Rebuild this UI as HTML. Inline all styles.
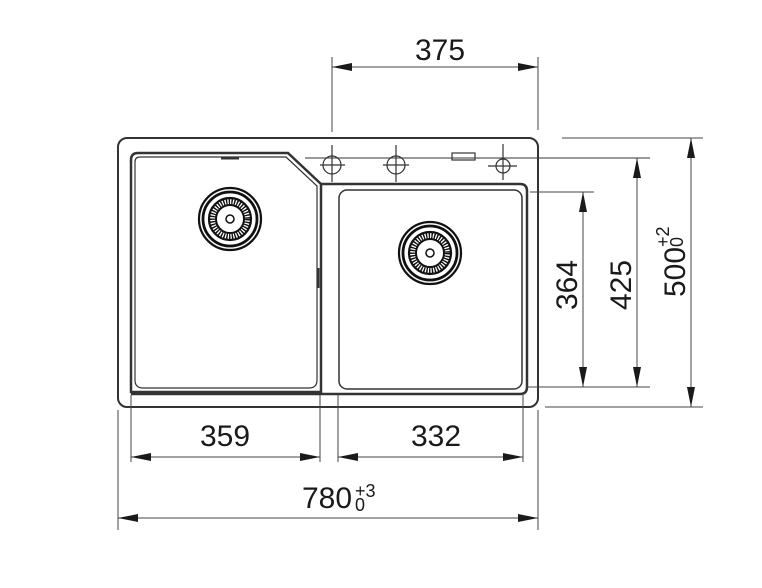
<!DOCTYPE html>
<html><head><style>html,body{margin:0;padding:0;background:#fff}svg{display:block}text{font-family:"Liberation Sans",Arial,sans-serif;fill:#1a1a1a}</style></head>
<body>
<svg width="762" height="588" viewBox="0 0 762 588" xmlns="http://www.w3.org/2000/svg">
<defs>
<marker id="a" markerWidth="20" markerHeight="8" refX="20" refY="4" orient="auto-start-reverse" markerUnits="userSpaceOnUse"><path d="M0,0 L20,4 L0,8 Z" fill="#1a1a1a"/></marker>
<g id="drain" fill="none" stroke="#111">
<circle r="31" stroke-width="2.2"/><circle r="27" stroke-width="2.8"/>
<circle r="21" stroke-width="2.2"/><circle r="14" stroke-width="2"/>
<circle r="17.5" stroke-width="6" stroke-dasharray="1.4 1.3"/>
<circle r="4" stroke-width="1.5"/>
</g>
</defs>
<g stroke="#333" fill="none">
<rect x="118" y="138" width="420" height="269" rx="9" stroke-width="2"/>
<path d="M131,392 L131,160 Q131,153 138,153 L288,153 L321,184 L321,392 Z" stroke-width="2.5"/>
<path d="M135,380 L135,162 Q135,157 140,157 L286,157 L317,186 L317,380 Q317,388 309,388 L143,388 Q135,388 135,380" stroke-width="1.2"/>
<path d="M321,184 L520,184 Q527,184 527,191 L527,387 Q527,394 520,394 L131,394" stroke-width="2.5"/>
<rect x="339" y="190" width="183" height="199" rx="8" stroke-width="1.5"/>
<line x1="305" y1="158" x2="650" y2="158" stroke-width="1"/>
<g stroke-width="1.2">
<circle cx="332" cy="165" r="9"/><line x1="332" y1="145" x2="332" y2="182"/><line x1="320" y1="165" x2="345" y2="165"/>
<circle cx="396" cy="165" r="9"/><line x1="396" y1="145" x2="396" y2="182"/><line x1="383" y1="165" x2="409" y2="165"/>
<circle cx="503" cy="166" r="7"/><line x1="503" y1="144" x2="503" y2="180"/><line x1="488" y1="166" x2="517" y2="166"/>
<rect x="452" y="153" width="23" height="7"/>
</g>
<path d="M221,158 L239,158" stroke-width="3"/>
<path d="M318,268 L318,288" stroke-width="3"/>
</g>
<use href="#drain" x="230" y="219"/>
<use href="#drain" x="430" y="253"/>
<g stroke="#444" stroke-width="1" fill="none">
<line x1="332" y1="57" x2="332" y2="132"/><line x1="538" y1="57" x2="538" y2="130"/>
<line x1="332" y1="67" x2="538" y2="67" marker-start="url(#a)" marker-end="url(#a)"/>
<line x1="562" y1="138" x2="703" y2="138"/><line x1="545" y1="407" x2="703" y2="407"/>
<line x1="691" y1="138" x2="691" y2="407" marker-start="url(#a)" marker-end="url(#a)"/>
<line x1="527" y1="387" x2="650" y2="387"/>
<line x1="637" y1="158" x2="637" y2="387" marker-start="url(#a)" marker-end="url(#a)"/>
<line x1="530" y1="192" x2="594" y2="192"/>
<line x1="583" y1="192" x2="583" y2="387" marker-start="url(#a)" marker-end="url(#a)"/>
<line x1="131" y1="395" x2="131" y2="462"/><line x1="320" y1="395" x2="320" y2="462"/>
<line x1="338" y1="395" x2="338" y2="462"/><line x1="523" y1="395" x2="523" y2="462"/>
<line x1="131" y1="457" x2="320" y2="457" marker-start="url(#a)" marker-end="url(#a)"/>
<line x1="338" y1="457" x2="523" y2="457" marker-start="url(#a)" marker-end="url(#a)"/>
<line x1="118" y1="410" x2="118" y2="530"/><line x1="538" y1="410" x2="538" y2="530"/>
<line x1="118" y1="518" x2="538" y2="518" marker-start="url(#a)" marker-end="url(#a)"/>
</g>
<g font-size="30">
<text x="440" y="60" text-anchor="middle">375</text>
<text x="225" y="446" text-anchor="middle">359</text>
<text x="436" y="446" text-anchor="middle">332</text>
<text x="327" y="508" text-anchor="middle">780</text>
<text transform="translate(577,285) rotate(-90)" text-anchor="middle">364</text>
<text transform="translate(631,285) rotate(-90)" text-anchor="middle">425</text>
<text transform="translate(685,272) rotate(-90)" text-anchor="middle">500</text>
</g>
<g font-size="18">
<text x="355" y="497">+3</text><text x="355" y="511">0</text>
<text transform="translate(669,247) rotate(-90)">+2</text>
<text transform="translate(683,247) rotate(-90)">0</text>
</g>
</svg>
</body></html>
